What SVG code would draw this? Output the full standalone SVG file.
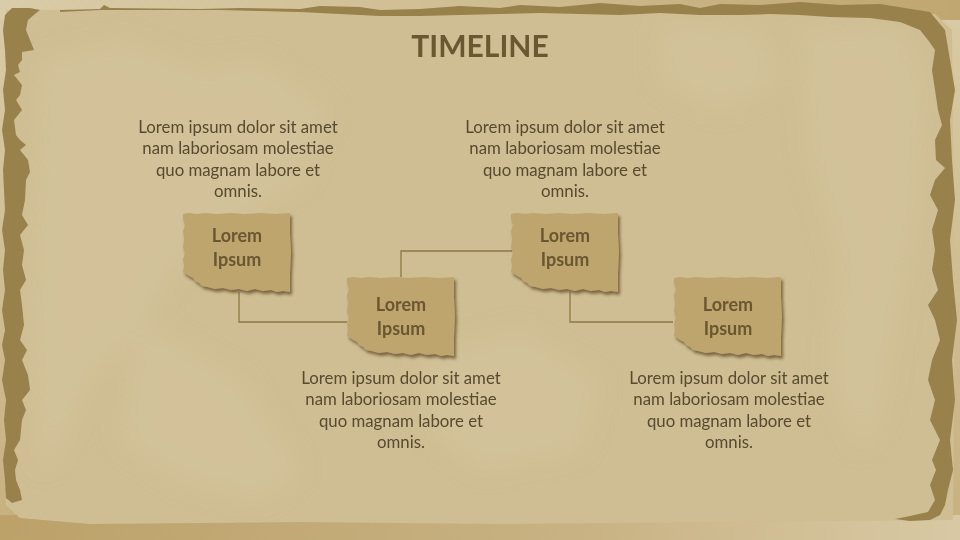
<svg xmlns="http://www.w3.org/2000/svg" width="960" height="540" viewBox="0 0 960 540">
  <defs>
    <linearGradient id="gTop" x1="0" y1="0" x2="1" y2="0">
      <stop offset="0" stop-color="#dacca8"/>
      <stop offset="0.5" stop-color="#cfbd92"/>
      <stop offset="1" stop-color="#c0a670"/>
    </linearGradient>
    <linearGradient id="gBot" x1="0" y1="0" x2="1" y2="0">
      <stop offset="0" stop-color="#bca169"/>
      <stop offset="0.6" stop-color="#c8b283"/>
      <stop offset="1" stop-color="#d8c9a4"/>
    </linearGradient>
    <linearGradient id="gSide" x1="0" y1="0" x2="0" y2="1">
      <stop offset="0" stop-color="#d9cba6"/>
      <stop offset="1" stop-color="#c7b07f"/>
    </linearGradient>
    <filter id="shadow" x="-10%" y="-10%" width="125%" height="130%">
      <feDropShadow dx="2" dy="3" stdDeviation="1.6" flood-color="#5e4c25" flood-opacity="0.75"/>
    </filter>
    <filter id="soft" x="-20%" y="-20%" width="140%" height="140%">
      <feGaussianBlur stdDeviation="12"/>
    </filter>
    <path id="paper" d="M0,1 L6,0 L14,1 L22,0 L34,1 L48,0 L62,1 L78,0 L92,1 L107,0 L107,20 L108,40 L107,60 L107,79 L100,78 L94,79 L88,77 L80,78 L72,76 L64,78 L56,76 L48,77 L40,75 L32,76 L24,74 L19,73 L16,70 L12,68 L10,65 L6,63 L3,61 L0,59 L1,52 L0,46 L2,40 L0,34 L1,26 L0,18 L2,12 L0,6 Z"/>
    <style>
      .body { font-family: Lato, "Liberation Sans", sans-serif; font-size: 16.8px; fill: #574a2e; text-anchor: middle; }
      .lbl { font-family: Lato, "Liberation Sans", sans-serif; font-size: 18px; font-weight: bold; fill: #6a5732; text-anchor: middle; }
      .title { font-family: Lato, "Liberation Sans", sans-serif; font-size: 30px; font-weight: bold; fill: #6a5833; text-anchor: middle; }
      .paper { fill: #bea56d; filter: url(#shadow); }
      .conn { fill: none; stroke: #8d7744; stroke-width: 1.3; }
      .border { fill: #98814b; }
      .blot { fill: #d9cba6; opacity: 0.35; }
    </style>
  </defs>

  <!-- background -->
  <rect x="0" y="0" width="960" height="540" fill="url(#gSide)"/>
  <rect x="0" y="0" width="960" height="20" fill="url(#gTop)"/>
  <rect x="0" y="515" width="960" height="25" fill="url(#gBot)"/>

  <!-- parchment -->
  <path fill="#cfbe93" d="M6,10 L300,9 L600,12 L935,14 L952,30 L955,300 L953,520 L700,522 L500,524 L300,522 L90,524 L20,518 L6,505 L4,300 Z"/>

  <!-- texture blotches -->
  <g filter="url(#soft)">
    <path class="blot" d="M40,60 L120,40 L200,70 L260,60 L330,110 L300,180 L240,220 L180,260 L140,330 L90,380 L60,450 L40,470 L30,300 Z"/>
    <path class="blot" d="M140,320 L240,380 L300,470 L260,500 L180,480 L120,440 Z"/>
    <path class="blot" d="M800,30 L900,25 L925,80 L920,200 L900,300 L880,420 L860,450 L830,380 L840,260 L810,160 Z"/>
    <path class="blot" d="M420,360 L520,330 L600,380 L580,450 L480,470 L430,430 Z"/>
    <path class="blot" d="M660,20 L760,30 L780,80 L720,110 L660,80 Z"/>
  </g>

  <!-- torn border -->
  <path class="border" d="M60,10 L100,9 L104,5 L110,8 L200,9 L240,8 L300,9 L320,6 L360,7 L380,10 L420,9 L460,6 L500,8 L520,5 L560,7 L600,3 L640,6 L680,4 L700,8 L720,4 L760,5 L800,2 L840,5 L880,4 L930,12 L945,30 L950,60 L955,90 L950,120 L952,160 L955,200 L950,240 L953,280 L957,320 L952,360 L955,400 L950,440 L953,470 L948,490 L945,505 L940,515 L930,520 L910,521 L895,519 L910,516 L928,512 L935,500 L930,485 L936,470 L932,460 L940,440 L930,420 L935,400 L928,380 L932,360 L940,340 L935,320 L928,305 L938,290 L932,270 L935,250 L932,230 L938,210 L930,195 L935,180 L945,168 L936,160 L935,140 L942,125 L938,110 L935,90 L932,70 L935,50 L928,40 L920,30 L900,22 L870,18 L830,17 L800,15 L770,14 L740,15 L700,15 L660,13 L620,15 L580,14 L540,13 L500,14 L460,15 L420,16 L380,16 L340,14 L300,12 L260,11 L220,10 L150,10 L100,10 L60,12 Z"/>
  <path class="border" d="M12,8 L30,8 L40,10 L35,14 L28,20 L26,30 L30,40 L32,45 L34,50 L22,52 L22,60 L18,65 L20,72 L14,75 L18,80 L22,85 L20,95 L16,100 L22,110 L14,120 L16,135 L20,140 L26,145 L20,150 L28,160 L30,172 L26,180 L25,200 L22,215 L28,225 L20,235 L24,250 L22,265 L26,280 L20,290 L22,305 L24,325 L20,340 L27,350 L22,360 L28,375 L30,390 L22,400 L26,410 L22,420 L20,440 L14,450 L18,460 L15,470 L16,480 L20,490 L22,500 L12,503 L6,498 L5,480 L3,460 L6,440 L4,420 L6,400 L2,380 L5,360 L2,345 L5,330 L2,310 L5,290 L3,270 L5,250 L2,230 L5,210 L4,190 L3,170 L5,150 L2,130 L5,110 L3,90 L6,70 L5,50 L3,30 L5,15 Z"/>

  <!-- title -->
  <text class="title" x="480" y="57">TIMELINE</text>

  <!-- connectors -->
  <g id="connectors">
    <polyline class="conn" points="239,292 239,322 347,322"/>
    <polyline class="conn" points="401,277 401,251 512,251"/>
    <polyline class="conn" points="570,292 570,322 673,322"/>
  </g>

  <!-- nodes -->
  <g id="node1">
    <use href="#paper" class="paper" transform="translate(183,213)"/>
    <text class="lbl" x="237" y="242">Lorem</text>
    <text class="lbl" x="237" y="266">Ipsum</text>
  </g>
  <g id="node2">
    <use href="#paper" class="paper" transform="translate(347,277)"/>
    <text class="lbl" x="401" y="311">Lorem</text>
    <text class="lbl" x="401" y="335">Ipsum</text>
  </g>
  <g id="node3">
    <use href="#paper" class="paper" transform="translate(511,213)"/>
    <text class="lbl" x="565" y="242">Lorem</text>
    <text class="lbl" x="565" y="266">Ipsum</text>
  </g>
  <g id="node4">
    <use href="#paper" class="paper" transform="translate(674,277)"/>
    <text class="lbl" x="728" y="311">Lorem</text>
    <text class="lbl" x="728" y="335">Ipsum</text>
  </g>

  <!-- descriptions -->
  <g id="desc1">
    <text class="body" x="238" y="133">Lorem ipsum dolor sit amet</text>
    <text class="body" x="238" y="154">nam laboriosam molestiae</text>
    <text class="body" x="238" y="176">quo magnam labore et</text>
    <text class="body" x="238" y="197">omnis.</text>
  </g>
  <g id="desc3">
    <text class="body" x="565" y="133">Lorem ipsum dolor sit amet</text>
    <text class="body" x="565" y="154">nam laboriosam molestiae</text>
    <text class="body" x="565" y="176">quo magnam labore et</text>
    <text class="body" x="565" y="197">omnis.</text>
  </g>
  <g id="desc2">
    <text class="body" x="401" y="384">Lorem ipsum dolor sit amet</text>
    <text class="body" x="401" y="405">nam laboriosam molestiae</text>
    <text class="body" x="401" y="427">quo magnam labore et</text>
    <text class="body" x="401" y="448">omnis.</text>
  </g>
  <g id="desc4">
    <text class="body" x="729" y="384">Lorem ipsum dolor sit amet</text>
    <text class="body" x="729" y="405">nam laboriosam molestiae</text>
    <text class="body" x="729" y="427">quo magnam labore et</text>
    <text class="body" x="729" y="448">omnis.</text>
  </g>
</svg>
